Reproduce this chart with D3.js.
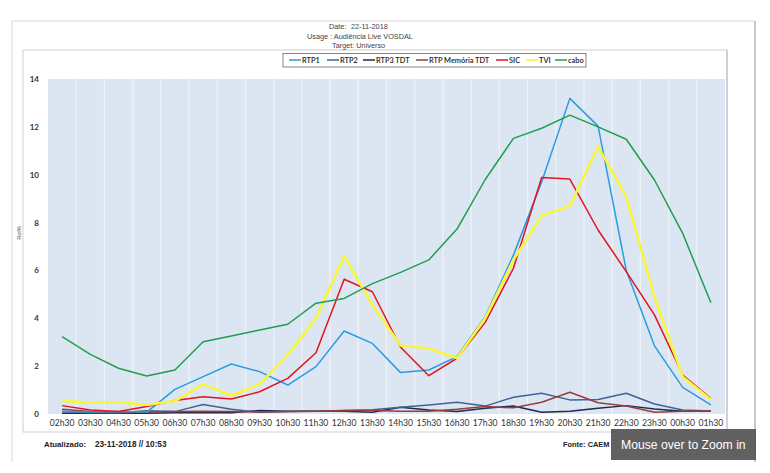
<!DOCTYPE html>
<html><head><meta charset="utf-8">
<script src="https://cdn.jsdelivr.net/npm/d3@7"></script>
<style>body{margin:0;background:#fff;}svg{display:block;}</style>
</head><body><svg id="c" width="770" height="473"></svg>
<script>
const categories = ["02h30","03h30","04h30","05h30","06h30","07h30","08h30","09h30","10h30","11h30","12h30","13h30","14h30","15h30","16h30","17h30","18h30","19h30","20h30","21h30","22h30","23h30","00h30","01h30"];
const seriesNames = ["RTP1","RTP2","RTP3 TDT","RTP Memória TDT","SIC","TVI","cabo"];
const seriesColors = ["#2a9be2","#3d6499","#1b2b4d","#9a3c3c","#e2141c","#f7f53c","#1f9e4e"];
const rtp1 = [0.12,0.08,0.1,0.08,1.03,1.56,2.09,1.77,1.21,1.98,3.47,2.95,1.73,1.84,2.4,4.07,6.64,9.7,13.19,12.03,6.0,2.85,1.11,0.38];
const rtp2 = [0.1,0.05,0.05,0.14,0.1,0.4,0.2,0.07,0.1,0.12,0.15,0.18,0.28,0.38,0.49,0.33,0.7,0.87,0.59,0.61,0.87,0.42,0.17,0.13];
const rtp3 = [0.03,0.03,0.03,0.03,0.05,0.05,0.05,0.15,0.12,0.12,0.12,0.07,0.28,0.17,0.1,0.24,0.33,0.07,0.12,0.24,0.35,0.21,0.12,0.12];
const memoria = [0.2,0.1,0.05,0.08,0.1,0.12,0.1,0.08,0.1,0.12,0.15,0.15,0.12,0.12,0.2,0.31,0.26,0.49,0.91,0.47,0.33,0.07,0.12,0.13];
const sic = [0.35,0.17,0.1,0.31,0.56,0.72,0.63,0.93,1.49,2.56,5.63,5.11,2.79,1.6,2.33,3.83,6.09,9.88,9.82,7.69,5.95,4.14,1.63,0.65];
const tvi = [0.56,0.47,0.49,0.38,0.54,1.25,0.77,1.25,2.47,4.0,6.6,4.55,2.86,2.74,2.33,4.0,6.44,8.29,8.69,11.17,9.08,4.9,1.56,0.61];
const cabo = [3.23,2.49,1.91,1.59,1.84,3.02,3.26,3.51,3.75,4.63,4.83,5.45,5.92,6.44,7.73,9.8,11.52,11.94,12.49,12.0,11.48,9.78,7.55,4.65];
const yTicks = [0,2,4,6,8,10,12,14];
const seriesValues = [rtp1,rtp2,rtp3,memoria,sic,tvi,cabo];

const svg = d3.select("#c");
const L=48, R=725, T=79, B=414;
const x = d3.scaleBand().domain(categories).range([L,R]);
const y = d3.scaleLinear().domain([0,14]).range([B,T]);

// frames
svg.append("path").attr("d","M12,462V21H755V462").attr("fill","none").attr("stroke","#d8d8d8");
svg.append("line").attr("x1",755).attr("x2",755).attr("y1",21).attr("y2",462).attr("stroke","#a8a8a8");
svg.append("rect").attr("x",23).attr("y",50).attr("width",704).attr("height",382).attr("fill","none").attr("stroke","#d0d0d0");
svg.append("line").attr("x1",727).attr("x2",727).attr("y1",50).attr("y2",432).attr("stroke","#bbb");

// titles
const tf = "'Liberation Sans', Arial, sans-serif";
const tg = svg.append("g").attr("font-family",tf).attr("font-size",7.3).attr("fill","#444");
tg.append("text").attr("x",329).attr("y",29).text("Date:");
tg.append("text").attr("x",351).attr("y",29).text("22-11-2018");
tg.append("text").attr("x",307).attr("y",38.5).text("Usage : Audiência Live VOSDAL");
tg.append("text").attr("x",332).attr("y",48).text("Target: Universo");

// plot bg
svg.append("rect").attr("x",L).attr("y",T).attr("width",R-L).attr("height",B-T).attr("fill","#dce6f2");
svg.append("g").selectAll("line").data(categories.slice(1)).join("line")
  .attr("x1",d=>x(d)).attr("x2",d=>x(d)).attr("y1",T).attr("y2",B)
  .attr("stroke","#eef3f9").attr("stroke-width",1.2);

// axes
const yAxis = svg.append("g").attr("transform",`translate(${L},0)`)
  .call(d3.axisLeft(y).tickValues(yTicks).tickSize(0).tickPadding(9).tickFormat(d3.format("d")));
yAxis.select(".domain").remove();
yAxis.selectAll("text").attr("font-family","Lato, 'Open Sans', sans-serif").attr("font-size",8).attr("font-weight",700).attr("fill","#333");

const xAxis = svg.append("g").attr("transform",`translate(0,${B})`)
  .call(d3.axisBottom(x).tickSize(0).tickPadding(6));
xAxis.select(".domain").remove();
xAxis.selectAll("text").attr("font-family","Lato, 'Open Sans', sans-serif").attr("font-size",8.6).attr("fill","#333");

svg.append("text").attr("transform","translate(21,233) rotate(-90)").attr("text-anchor","middle")
  .attr("font-family",tf).attr("font-size",5.5).attr("fill","#555").text("Rat%");

// lines
const line = d3.line().x((d,i)=>x(categories[i])+x.bandwidth()/2).y(d=>y(d));
const order = [2,1,3,0,4,5,6];
const lg = svg.append("g");
order.forEach(k=>{
  lg.append("path").datum(seriesValues[k]).attr("d",line).attr("fill","none")
    .attr("stroke",seriesColors[k]).attr("stroke-width",k===5?2.6:1.5).attr("stroke-linejoin","round");
});

// legend
svg.append("rect").attr("x",283).attr("y",53.5).attr("width",303).attr("height",13.5).attr("fill","#fff").attr("stroke","#666").attr("stroke-width",0.8);
const legX = [289,327,363,416,496,526,555];
const leg = svg.append("g").attr("font-family","Lato, 'Open Sans', sans-serif").attr("font-size",7.4).attr("font-weight",600).attr("fill","#222");
seriesNames.forEach((n,i)=>{
  leg.append("line").attr("x1",legX[i]).attr("x2",legX[i]+12).attr("y1",60).attr("y2",60).attr("stroke",seriesColors[i]).attr("stroke-width",1.5);
  leg.append("text").attr("x",legX[i]+13).attr("y",62.8).text(n);
});

// footer
const fg = svg.append("g").attr("font-family",tf).attr("font-size",8.2).attr("fill","#222");
fg.append("text").attr("x",44).attr("y",447).attr("font-weight",700).attr("font-size",7.8).text("Atualizado:");
fg.append("text").attr("x",95).attr("y",447).attr("font-weight",700).text("23-11-2018 // 10:53");
fg.append("text").attr("x",563).attr("y",447).attr("font-weight",700).attr("font-size",7.4).text("Fonte: CAEM");

// tooltip overlay
svg.append("rect").attr("x",611).attr("y",429).attr("width",145).attr("height",31).attr("fill","#595959").attr("opacity",0.95);
svg.append("text").attr("x",621).attr("y",448.5).attr("font-family",tf).attr("font-size",12.2).attr("fill","#fff").text("Mouse over to Zoom in");
</script></body></html>
